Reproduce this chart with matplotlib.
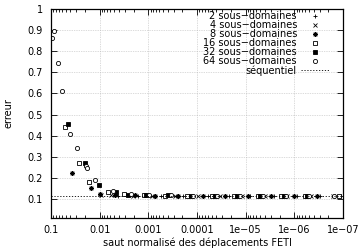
import numpy as np
import matplotlib
matplotlib.use("Agg")
import matplotlib.pyplot as plt
from matplotlib.ticker import LogLocator, FixedLocator, NullFormatter

plt.rcParams['font.family'] = ['DejaVu Sans']

# saut normalise (x) / erreur (y) per number of sub-domains
x2 = [0.0098, 0.0042, 0.0016, 0.00055, 0.00019, 6.0e-05, 2.2e-05, 8.0e-06, 2.6e-06, 9.0e-07, 3.0e-07, 1.1e-07]
y2 = [0.118, 0.116, 0.115, 0.115, 0.114, 0.115, 0.114, 0.115, 0.114, 0.114, 0.114, 0.114]

x4 = [0.0095, 0.0058, 0.0021, 0.00085, 0.00028, 9.5e-05, 3.4e-05, 1.2e-05, 4.0e-06, 1.4e-06, 4.5e-07, 1.6e-07]
y4 = [0.119, 0.117, 0.116, 0.115, 0.115, 0.114, 0.115, 0.114, 0.114, 0.114, 0.114, 0.114]

x8 = [0.037, 0.0151, 0.0099, 0.0048, 0.0019, 0.00072, 0.00024, 7.5e-05, 2.6e-05, 9.0e-06, 3.0e-06, 1.0e-06, 3.5e-07]
y8 = [0.225, 0.152, 0.126, 0.120, 0.117, 0.116, 0.115, 0.115, 0.115, 0.114, 0.115, 0.114, 0.114]

x16 = [0.0516, 0.0266, 0.0166, 0.0068, 0.0031, 0.0012, 0.00045, 0.00016, 5.0e-05, 1.7e-05, 5.5e-06, 1.9e-06, 6.0e-07, 1.2e-07]
y16 = [0.440, 0.270, 0.180, 0.133, 0.122, 0.118, 0.116, 0.115, 0.115, 0.115, 0.115, 0.114, 0.114, 0.114]

x32 = [0.0448, 0.0200, 0.0103, 0.0046, 0.0026, 0.0011, 0.0004, 0.00013, 4.2e-05, 1.5e-05, 5.0e-06, 1.6e-06, 5.5e-07]
y32 = [0.455, 0.270, 0.166, 0.133, 0.121, 0.118, 0.117, 0.116, 0.115, 0.115, 0.115, 0.114, 0.114]

x64 = [0.0954, 0.0868, 0.0718, 0.0594, 0.0410, 0.0293, 0.0195, 0.0185, 0.0125, 0.0053, 0.0023, 0.00095, 0.00035, 0.00012, 3.8e-05, 1.3e-05, 4.5e-06, 1.5e-06, 5.0e-07, 1.5e-07]
y64 = [0.863, 0.896, 0.745, 0.610, 0.410, 0.340, 0.255, 0.245, 0.190, 0.138, 0.125, 0.119, 0.117, 0.116, 0.115, 0.115, 0.115, 0.114, 0.114, 0.114]

sequentiel = 0.112

xticks = [0.1, 0.01, 0.001, 0.0001, 1e-05, 1e-06, 1e-07]
xlabels = ["0.1", "0.01", "0.001", "0.0001", "1e\u221205", "1e\u221206", "1e\u221207"]
yticks = [0.1, 0.2, 0.3, 0.4, 0.5, 0.6, 0.7, 0.8, 0.9, 1]
ylabels = ["0.1", "0.2", "0.3", "0.4", "0.5", "0.6", "0.7", "0.8", "0.9", "1"]

fig = plt.figure(figsize=(3.59, 2.48), dpi=100)
ax = fig.add_axes([51 / 359, 30 / 248, 292 / 359, 209 / 248])

ms = 3
ax.plot(x2, y2, '+', color='black', ms=ms + 0.5, mew=0.6, ls='none', label='2 sous\u2212domaines')
ax.plot(x4, y4, 'x', color='black', ms=ms, mew=0.6, ls='none', label='4 sous\u2212domaines')
ax.plot(x8, y8, marker=(8, 2, 0), color='black', ms=ms + 0.5, mew=0.7, ls='none', label='8 sous\u2212domaines')
ax.plot(x16, y16, 's', mfc='white', mec='black', ms=ms + 0.5, mew=0.6, ls='none', label='16 sous\u2212domaines')
ax.plot(x32, y32, 's', color='black', ms=ms, mew=0.6, ls='none', label='32 sous\u2212domaines')
ax.plot(x64, y64, 'o', mfc='white', mec='black', ms=ms, mew=0.6, ls='none', label='64 sous\u2212domaines')
ax.axhline(sequentiel, color='black', lw=0.6, ls=(0, (1.5, 2)), label='s\u00e9quentiel')

ax.set_xscale('log')
ax.set_xlim(0.1, 1e-07)
ax.set_ylim(0.01, 1)
ax.xaxis.set_major_locator(FixedLocator(xticks))
ax.set_xticklabels(xlabels)
ax.xaxis.set_minor_locator(LogLocator(base=10, subs=(2, 3, 4, 5, 6, 7, 8, 9)))
ax.xaxis.set_minor_formatter(NullFormatter())
ax.set_yticks(yticks)
ax.set_yticklabels(ylabels)

ax.tick_params(which='both', direction='in', top=True, right=True, labelsize=7, width=0.6)
ax.tick_params(axis='x', pad=5)
ax.tick_params(axis='y', pad=6)
ax.tick_params(which='major', length=4)
ax.tick_params(which='minor', length=2)
ax.grid(True, which='major', color='#b8b8b8', ls=(0, (1, 1.5)), lw=0.5)
for s in ax.spines.values():
    s.set_linewidth(0.9)

ax.set_xlabel('saut normalis\u00e9 des d\u00e9placements FETI', fontsize=7, labelpad=2)
ax.set_ylabel('erreur', fontsize=7, labelpad=10)

leg = ax.legend(loc='upper right', bbox_to_anchor=(0.962, 1.0), frameon=False, markerfirst=False,
                fontsize=7, handlelength=3.0, handletextpad=0.4, labelspacing=-0.1,
                borderaxespad=0.0, borderpad=0.2, numpoints=1)

fig.savefig('out.png', dpi=100)
